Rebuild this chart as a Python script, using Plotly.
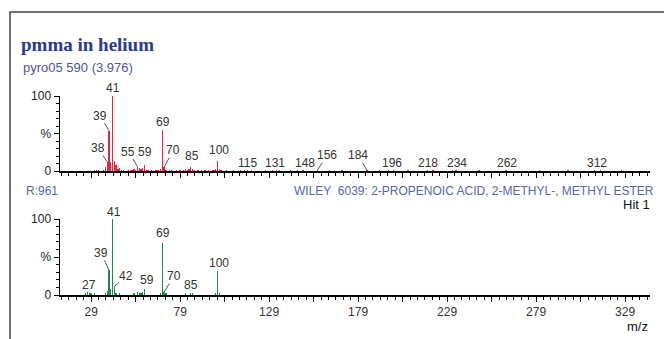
import plotly.graph_objects as go

# ---------------- data ----------------
# sample spectrum (pyro05 590)
sample_mz = [31, 32, 33, 36, 37, 38, 39, 40, 41, 42, 43, 44, 45, 46, 47, 50, 51, 52, 53, 54,
             55, 56, 57, 58, 59, 60, 61, 63, 65, 66, 67, 68, 69, 70, 71, 73, 74, 77, 79, 81,
             82, 83, 84, 85, 86, 87, 89, 91, 93, 95, 97, 98, 99, 100, 101, 102, 105, 109, 113, 115,
             117, 119, 127, 131, 133, 135, 141, 145, 148, 156, 163, 170, 184, 191, 196, 199, 207, 218, 221, 232,
             234, 247, 262, 281, 297, 312, 315, 327]
sample_int = [2, 2, 1, 2, 5, 12, 54, 12, 100, 14, 8, 3, 4, 2, 1, 2, 2, 1, 3, 2,
              6, 4, 3, 4, 8, 2, 1, 1, 2, 1, 2, 3, 55, 5, 2, 2, 1, 1, 2, 2,
              3, 2, 3, 6, 3, 2, 1, 2, 1, 1, 2, 1, 3, 13, 3, 1, 1, 1, 1, 2,
              1, 1, 1, 2, 1, 1, 1, 1, 1, 1, 1, 1, 1, 1, 1.5, 1, 1, 1.5, 1, 1,
              1.5, 1, 1.5, 1, 1, 1.5, 1, 1]

# library spectrum (WILEY 6039)
lib_mz = [26, 27, 28, 29, 31, 37, 38, 39, 40, 41, 42, 43, 45, 53, 55, 56, 57, 58, 59, 68,
          69, 70, 71, 82, 85, 86, 99, 100, 101]
lib_int = [2, 4, 2, 3, 2, 3, 5, 33, 8, 100, 11, 3, 2, 3, 4, 2, 3, 4, 8, 2,
           68, 4, 2, 2, 3, 2, 2, 31, 2]

sample_labels = [41, 39, 38, 69, 55, 59, 70, 85, 100, 115, 131, 148, 156, 184, 196, 218, 234, 262, 312]
lib_labels = [41, 39, 42, 27, 69, 59, 70, 85, 100]

x_tick_vals = [29, 54, 79, 104, 129, 154, 179, 204, 229, 254, 279, 304, 329]
x_tick_text = ["29", "", "79", "", "129", "", "179", "", "229", "", "279", "", "329"]
y_tick_vals = [0, 50, 100]
y_tick_text = ["0", "%", "100"]

# ---------------- layout helpers ----------------
W, H = 664, 339


def fx(px):
    return px / W


def fy(py):
    return 1 - py / H


X_RANGE = [11.5, 343]
RED = "#e8253f"
GREEN = "#1d8a4c"
FONT = "Liberation Sans, Arial, sans-serif"

fig = go.Figure()
fig.add_trace(go.Bar(x=sample_mz, y=sample_int, width=0.75, marker=dict(color=RED, line=dict(width=0)),
                     xaxis="x", yaxis="y", showlegend=False, hoverinfo="skip"))
fig.add_trace(go.Bar(x=lib_mz, y=lib_int, width=0.75, marker=dict(color=GREEN, line=dict(width=0)),
                     xaxis="x2", yaxis="y2", showlegend=False, hoverinfo="skip"))

common_x = dict(range=X_RANGE, showgrid=False, zeroline=False, showline=True, linecolor="black",
                linewidth=1.5, ticks="outside", ticklen=5, tickwidth=1, tickcolor="black",
                tickmode="array", tickvals=x_tick_vals,
                minor=dict(tickmode="linear", tick0=29, dtick=25 / 6, ticklen=3, ticks="outside",
                           tickcolor="black", tickwidth=1, showgrid=False),
                domain=[fx(60), fx(650)], fixedrange=True, automargin=False)
common_y = dict(range=[0, 100], showgrid=False, zeroline=False, showline=True, linecolor="black",
                linewidth=1.5, ticks="outside", ticklen=5, tickwidth=1, tickcolor="black",
                tickmode="array", tickvals=y_tick_vals, ticktext=y_tick_text,
                tickfont=dict(family=FONT, size=12, color="#222"),
                minor=dict(tickmode="linear", tick0=0, dtick=10, ticklen=3, ticks="outside",
                           tickcolor="black", tickwidth=1, showgrid=False),
                fixedrange=True, automargin=False)

fig.update_layout(
    width=W, height=H,
    margin=dict(l=0, r=0, t=0, b=0),
    paper_bgcolor="white", plot_bgcolor="rgba(0,0,0,0)",
    bargap=0, barmode="overlay",
    xaxis=dict(**common_x, anchor="y", ticktext=[""] * len(x_tick_vals)),
    yaxis=dict(**common_y, anchor="x", domain=[fy(171), fy(96)]),
    xaxis2=dict(**common_x, anchor="y2", ticktext=x_tick_text,
                tickfont=dict(family=FONT, size=12, color="#333")),
    yaxis2=dict(**common_y, anchor="x2", domain=[fy(295), fy(219)]),
)

# peak labels: offsets (pixels) of label centre from peak top, and whether a leader line is drawn
sample_offsets = {41: (0, -8, False), 39: (-9, -15, True), 38: (-9, -14, True), 69: (1, -8, False),
                  55: (-9, -15, True), 59: (0, -13, False), 70: (9, -17, True), 85: (1, -11, False),
                  100: (1, -11, False), 115: (3, -7, False), 131: (2, -7, False), 148: (2, -7, False),
                  156: (10, -15, True), 184: (-9, -15, True), 196: (4, -7, False), 218: (0, -7, False),
                  234: (1, -7, False), 262: (1, -7, False), 312: (2, -7, False)}
lib_offsets = {41: (1, -7, False), 39: (-8, -17, True), 42: (12, -11, True), 27: (1, -7, False),
               69: (1, -10, False), 59: (2, -9, False), 70: (10, -16, True), 85: (0, -8, False),
               100: (1, -8, False)}

annotations = []


def add_labels(labels, mz, inten, offsets, xref, yref):
    lookup = dict(zip(mz, inten))
    for m in labels:
        ax, ay, line = offsets[m]
        annotations.append(dict(
            x=m, y=lookup.get(m, 1), xref=xref, yref=yref, text=str(m),
            showarrow=True, ax=ax, ay=ay, axref="pixel", ayref="pixel",
            arrowhead=0, arrowwidth=1, standoff=0,
            arrowcolor="#555" if line else "rgba(0,0,0,0)",
            font=dict(family=FONT, size=12, color="#333"),
            borderpad=0))


add_labels(sample_labels, sample_mz, sample_int, sample_offsets, "x", "y")
add_labels(lib_labels, lib_mz, lib_int, lib_offsets, "x2", "y2")

# header / info texts
annotations += [
    dict(text="<b>pmma in helium</b>", x=fx(19), y=fy(45), xref="paper", yref="paper",
         xanchor="left", yanchor="middle", showarrow=False,
         font=dict(family="Liberation Serif, Times New Roman, serif", size=19, color="#2a3a8f")),
    dict(text="pyro05 590 (3.976)", x=fx(21), y=fy(68), xref="paper", yref="paper",
         xanchor="left", yanchor="middle", showarrow=False,
         font=dict(family=FONT, size=13, color="#4a56a6")),
    dict(text="R:961", x=fx(24), y=fy(191), xref="paper", yref="paper",
         xanchor="left", yanchor="middle", showarrow=False,
         font=dict(family=FONT, size=12, color="#5a66ae")),
    dict(text="WILEY  6039: 2-PROPENOIC ACID, 2-METHYL-, METHYL ESTER", x=fx(656), y=fy(191),
         xref="paper", yref="paper", xanchor="right", yanchor="middle", showarrow=False,
         font=dict(family=FONT, size=12, color="#5a66ae")),
    dict(text="Hit 1", x=fx(652), y=fy(204), xref="paper", yref="paper",
         xanchor="right", yanchor="middle", showarrow=False,
         font=dict(family=FONT, size=13, color="#111")),
    dict(text="m/z", x=fx(650), y=fy(326), xref="paper", yref="paper",
         xanchor="right", yanchor="middle", showarrow=False,
         font=dict(family=FONT, size=13, color="#111")),
]
fig.update_layout(annotations=annotations)

# outer frame: only the left and top edges fall inside the picture
fig.add_shape(type="rect", xref="paper", yref="paper", x0=fx(10), x1=1.05, y0=-0.05, y1=fy(12),
              line=dict(color="#444", width=1.5), fillcolor="rgba(0,0,0,0)", layer="below")

fig.write_html("out.html", config={"displayModeBar": False, "staticPlot": True},
               post_script="document.body.style.margin='0';document.documentElement.style.overflow='hidden';document.body.style.overflow='hidden';")
